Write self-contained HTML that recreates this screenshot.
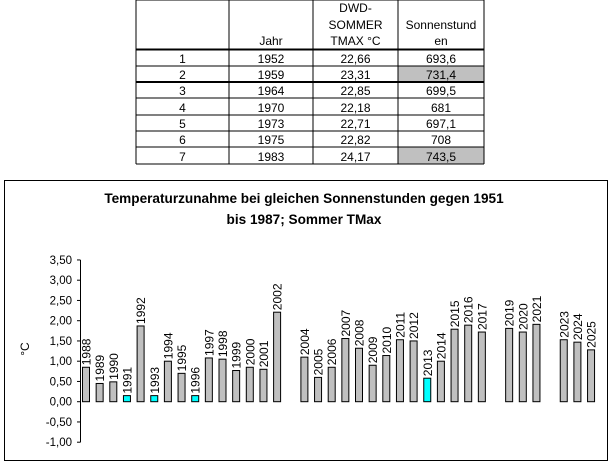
<!DOCTYPE html>
<html><head><meta charset="utf-8"><style>
body{margin:0;width:614px;height:468px;background:#fff;position:relative;overflow:hidden;font-family:"Liberation Sans",Arial,sans-serif;}
</style></head><body>
<div id="tbl"></div>
<svg id="chart" width="614" height="468" style="position:absolute;left:0;top:0"></svg>
<script>
// table
const rowsIdx=["1","2","3","4","5","6","7"];
const rowsJahr=["1952","1959","1964","1970","1973","1975","1983"];
const rowsT=["22,66","23,31","22,85","22,18","22,71","22,82","24,17"];
const rowsS=["693,6","731,4","699,5","681","697,1","708","743,5"];
const grayRows=[1,6];
// chart data
const years=[1988,1989,1990,1991,1992,1993,1994,1995,1996,1997,1998,1999,2000,2001,2002,2004,2005,2006,2007,2008,2009,2010,2011,2012,2013,2014,2015,2016,2017,2019,2020,2021,2023,2024,2025];
const values=[0.85,0.45,0.49,0.15,1.87,0.15,1.00,0.70,0.15,1.08,1.05,0.77,0.85,0.80,2.21,1.10,0.60,0.85,1.56,1.32,0.90,1.14,1.53,1.50,0.58,1.00,1.79,1.89,1.72,1.81,1.72,1.91,1.53,1.47,1.28];
const highlight=[1991,1993,1996,2013];
const ticks=[3.5,3,2.5,2,1.5,1,0.5,0,-0.5,-1];

const NS="http://www.w3.org/2000/svg";
const svg=document.getElementById('chart');
function el(t,a,txt){const e=document.createElementNS(NS,t);for(const k in a)e.setAttribute(k,a[k]);if(txt!=null)e.textContent=txt;svg.appendChild(e);return e;}

const cx=[136,229,313,398,484];
const ry=[0,49.5,66,82,98,115,131,147,164];
rowsIdx.forEach((v,i)=>{
  if(grayRows.includes(i)){const r=el('rect',{x:cx[3],y:ry[i+1],width:cx[4]-cx[3],height:ry[i+2]-ry[i+1],fill:'#c0c0c0'});
  
  }
  const vals=[v,rowsJahr[i],rowsT[i],rowsS[i]];
  vals.forEach((t,j)=>{const tx=el('text',{x:(cx[j]+cx[j+1])/2,y:ry[i+2]-3,'font-size':12,'text-anchor':'middle','font-family':'Liberation Sans, sans-serif'},t);
  
  });
});
[["Jahr",1,[45]],["DWD-|SOMMER|TMAX °C",2,[12,29,45]],["Sonnenstund|en",3,[29,45]]].forEach(h=>{
  h[0].split('|').forEach((t,k)=>{const tx=el('text',{x:(cx[h[1]]+cx[h[1]+1])/2,y:h[2][k],'font-size':12,'text-anchor':'middle','font-family':'Liberation Sans, sans-serif'},t);
  
  });
});
cx.forEach(x=>el('line',{x1:x,y1:0,x2:x,y2:164,stroke:'#000','stroke-width':1}));
ry.forEach((y,i)=>el('line',{x1:136,y1:y,x2:484,y2:y,stroke:'#000','stroke-width':(i==1||i==3)?2:1}));

const fr=el('rect',{x:4.5,y:180.5,width:603,height:280,fill:'none',stroke:'#000','stroke-width':1});


const t1=el('text',{x:304,y:203,'font-size':13.6,'font-weight':'bold','text-anchor':'middle','font-family':'Liberation Sans, sans-serif'},'Temperaturzunahme bei gleichen Sonnenstunden gegen 1951');


const t2=el('text',{x:304,y:224,'font-size':13.6,'font-weight':'bold','text-anchor':'middle','font-family':'Liberation Sans, sans-serif'},'bis 1987; Sommer TMax');



const y0=401.7,ppu=40.5;
const Y=v=>y0-v*ppu;
const X=yr=>86+(yr-1988)*13.65;
el('line',{x1:80.5,y1:Y(3.5),x2:80.5,y2:Y(-1),stroke:'#000'});
ticks.forEach(t=>{
  el('line',{x1:77,y1:Y(t),x2:80.5,y2:Y(t),stroke:'#000'});
  const tx=el('text',{x:72,y:Y(t)+4,'font-size':11.5,'text-anchor':'end','font-family':'Liberation Sans, sans-serif'},t.toFixed(2).replace('.',','));
  
  
});
const yt=el('text',{x:0,y:0,'font-size':12,'text-anchor':'middle','font-family':'Liberation Sans, sans-serif',transform:`translate(29,${Y(1.3)}) rotate(-90)`},'°C');



years.forEach((yr,i)=>{
  const v=values[i],cxp=X(yr);
  const r=el('rect',{x:cxp-3.5,y:Math.min(Y(v),y0),width:7,height:Math.abs(Y(v)-y0),fill:highlight.includes(yr)?'#00ffff':'#c0c0c0',stroke:'#000','stroke-width':1});
  
  
  const lb=el('text',{x:0,y:0,'font-size':12,'font-family':'Liberation Sans, sans-serif',transform:`translate(${cxp+4.5},${Y(v)-2}) rotate(-90)`},String(yr));
  
  
});
</script>
</body></html>
